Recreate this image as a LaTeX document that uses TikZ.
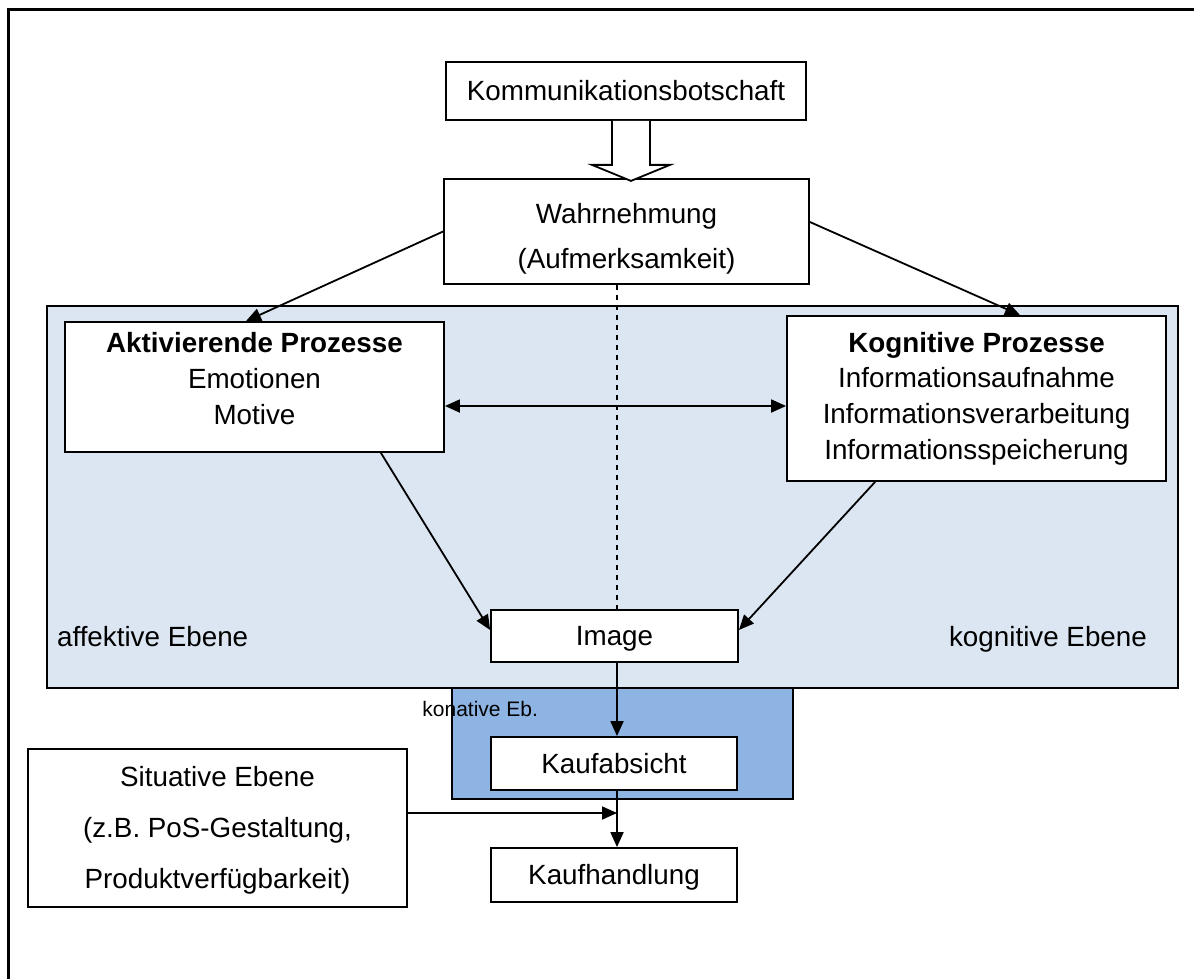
\documentclass[tikz,border=0pt]{standalone}
\usepackage{fontspec}
\setmainfont{Liberation Sans}
\usetikzlibrary{arrows.meta,calc}
\definecolor{hellblau}{HTML}{DCE6F2}
\definecolor{mittelblau}{HTML}{8EB4E3}
\tikzset{
  box/.style={draw,fill=white,line width=0.9pt,inner sep=0pt},
  txt/.style={align=center,font=\fontsize{13.9}{17.8}\selectfont},
  einzeilig/.style={text height=10pt,text depth=0.3pt},
  pfeil/.style={line width=0.9pt,-{Triangle[length=7.5pt,width=6.5pt]}},
  doppelpfeil/.style={line width=0.9pt,{Triangle[length=7.5pt,width=6.5pt]}-{Triangle[length=7.5pt,width=6.5pt]}},
  hohlpfeil/.style={draw,fill=white,line width=0.9pt,line join=miter},
  ebene/.style={draw,line width=0.9pt}
}

\begin{document}
\begin{tikzpicture}[x=0.5pt,y=-0.5pt]
\useasboundingbox (0,0) rectangle (1194,979);
\draw[line width=1.5pt] (8,979) -- (8,10) -- (1194,10);
\draw[ebene,fill=hellblau] (47,306) rectangle (1178,688);
\draw[ebene,fill=mittelblau] (452,688) rectangle (793,799);
\coordinate (achse) at (617,0);
\coordinate (mitte) at (0,406);

\node[box,txt,einzeilig,minimum width=180pt,minimum height=29pt] (kom) at (626,91) {Kommunikationsbotschaft};
\node[box,minimum width=182.5pt,minimum height=52.5pt] (wahr) at (626.5,231.5) {};
\node[txt,font=\fontsize{13.9}{22.5}\selectfont] (wahr-txt) at (626.5,239) {Wahrnehmung\\(Aufmerksamkeit)};
\node[box,minimum width=189.5pt,minimum height=65pt] (akt) at (254.5,387) {};
\node[txt] (akt-txt) at (254.5,378.5) {\textbf{Aktivierende Prozesse}\\Emotionen\\Motive};
\node[box,minimum width=189.5pt,minimum height=82.5pt] (kog) at (976.5,398.5) {};
\node[txt] (kog-txt) at (976.5,398.5) {\textbf{Kognitive Prozesse}\\Informationsaufnahme\\Informationsverarbeitung\\Informationsspeicherung};
\node[box,txt,einzeilig,minimum width=123.5pt,minimum height=26pt] (img) at (614.5,636) {Image};
\node[box,txt,einzeilig,minimum width=123pt,minimum height=26.5pt] (kauf) at (614,763.5) {Kaufabsicht};
\node[box,txt,einzeilig,minimum width=123pt,minimum height=27pt] (handl) at (614,875) {Kaufhandlung};
\node[box,minimum width=189.5pt,minimum height=79pt] (sit) at (217.5,828) {};
\node[txt,font=\fontsize{13.9}{25.5}\selectfont] (sit-txt) at (217.5,830.5) {Situative Ebene\\(z.B. PoS-Gestaltung,\\Produktverfügbarkeit)};
\node[txt,einzeilig,anchor=west] (aff) at (50,637) {affektive Ebene};
\node[txt,einzeilig] (kogeb) at (1048,637) {kognitive Ebene};
\node[anchor=west,inner sep=0pt,font=\fontsize{10.5}{12}\selectfont] (kon) at (422,709) {konative Eb.};

\draw[hohlpfeil] (kom.south) ++(-14,0) -- ++(0,44) -- ++(-20,0) -- ++(39,16) -- ++(39,-16) -- ++(-20,0) -- ++(0,-44);
\draw[pfeil] (wahr.west) -- ([xshift=-4.25pt]akt.north);
\draw[pfeil] ([yshift=4.75pt]wahr.east) -- ([xshift=21.75pt]kog.north);
\draw[doppelpfeil] (akt.east |- mitte) -- (kog.west |- mitte);
\draw[line width=0.6pt,dash pattern=on 2.5pt off 2.5pt] (wahr.south -| achse) -- (img.north -| achse);
\draw[pfeil] ([xshift=-32pt]akt.south east) -- ([yshift=3pt]img.west);
\draw[pfeil] ([xshift=44.5pt]kog.south west) -- ([yshift=3pt]img.east);
\draw[pfeil] (img.south -| achse) -- (kauf.north -| achse);
\draw[pfeil] (kauf.south -| achse) -- (handl.north -| achse);
\draw[pfeil] ([yshift=7.5pt]sit.east) -- ([yshift=7.5pt]sit.east -| achse);
\end{tikzpicture}
\end{document}
